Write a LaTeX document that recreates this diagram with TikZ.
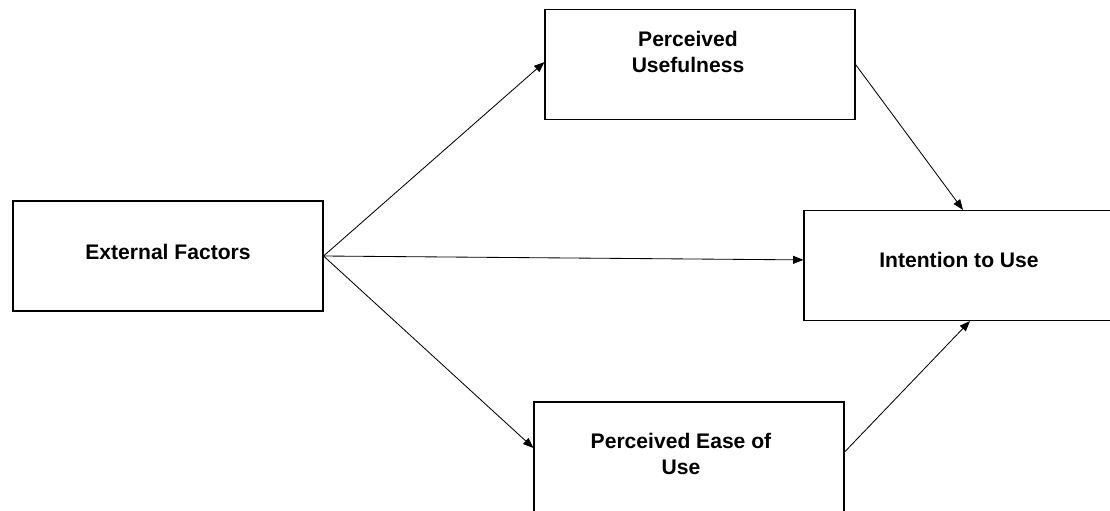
\documentclass[tikz,border=0pt]{standalone}
\usepackage{fontspec}
\setmainfont{Liberation Sans}
\usepackage{tikz, tkz-euclide}
\usetikzlibrary{arrows.meta}
\tikzset{
  box/.style = {rectangle, draw, line width=0.8pt,
                minimum width=7.75cm, minimum height=2.75cm},
  rotulo/.style = {align=center, font=\fontsize{15}{18.5}\selectfont\bfseries},
  seta/.style = {-{Triangle[length=2.6mm,width=2mm]}, line width=0.6pt}
}

\begin{document}
\begin{tikzpicture}
\useasboundingbox (0,0) rectangle (27.75,12.75);
\tkzDefPoints{4.2/6.35/EF,
              17.5/11.1375/PU,
              23.975/6.1125/IU,
              17.225/1.325/PEU};

% caixas
\node [box] at (EF) (ef) {};
\node [box] at (PU) (pu) {};
\node [box] at (IU) (iu) {};
\node [box] at (PEU) (peu) {};

% textos
\node [rotulo] at (4.2,6.45) (ef text) {External Factors};
\node [rotulo] at (17.2,11.46) (pu text) {Perceived\\Usefulness};
\node [rotulo] at (23.975,6.25) (iu text) {Intention to Use};
\node [rotulo] at (17.025,1.4125) (peu text) {Perceived Ease of\\Use};

% conexoes
\draw [seta] (ef.east) -- ([yshift=0.06cm]pu.west);
\draw [seta] (ef.east) -- ([yshift=0.14cm]iu.west);
\draw [seta] (ef.east) -- ([yshift=0.225cm]peu.west);
\draw [seta] (pu.east) -- ([xshift=0.1cm]iu.north);
\draw [seta] ([yshift=0.125cm]peu.east) -- ([xshift=0.275cm]iu.south);
\end{tikzpicture}
\end{document}
